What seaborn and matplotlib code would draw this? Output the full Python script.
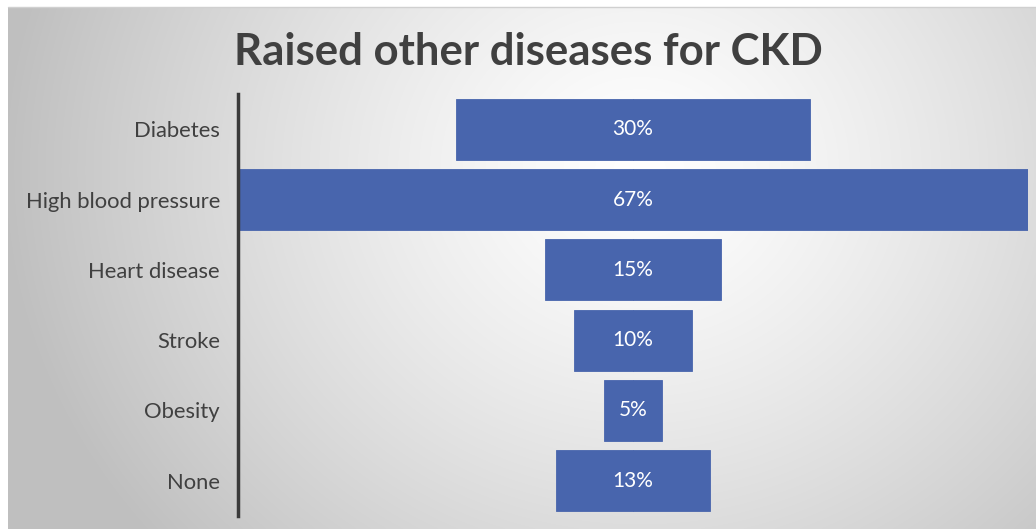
import numpy as np
import pandas as pd
import matplotlib
matplotlib.use("Agg")
import matplotlib.pyplot as plt
import seaborn as sns

# Data
categories = ["Diabetes", "High blood pressure", "Heart disease", "Stroke", "Obesity", "None"]
percentages = [30, 67, 15, 10, 5, 13]
value_labels = ["30%", "67%", "15%", "10%", "5%", "13%"]

sns.set_theme(style="white")
plt.rcParams["font.family"] = ["Lato", "DejaVu Sans"]

W, H, DPI = 1036, 529, 100
fig = plt.figure(figsize=(W / DPI, H / DPI), dpi=DPI)
fig.patch.set_facecolor("white")

# Radial gradient backdrop (white near the title, grey toward the edges)
bg = fig.add_axes([8 / W, 0, 1 - 8 / W, 1 - 7 / H], zorder=0)
gx = np.linspace(8, W, 600)
gy = np.linspace(7, H, 320)
X, Y = np.meshgrid(gx, gy)
cx, cy = 640, 170
r = np.sqrt(((X - cx) / 1.0) ** 2 + ((Y - cy) / 0.9) ** 2)
t = np.clip(r / 640, 0, 1) ** 1.3
val = 1.0 - 0.25 * t
img = np.dstack([val, val, val])
bg.imshow(img, aspect="auto", extent=[0, 1, 0, 1], interpolation="bilinear")
bg.axis("off")
# thin border line along the top of the backdrop
fig.add_artist(plt.Line2D([8 / W, 1], [1 - 7 / H, 1 - 7 / H], color="#d0d0d0", lw=1))

# Funnel plot area
ax = fig.add_axes([238 / W, 1 - 516 / H, (1028 - 238) / W, (516 - 94) / H], zorder=1)
ax.patch.set_alpha(0)

df = pd.DataFrame({"category": categories, "pct": percentages})
df["half"] = df["pct"] / 2.0
df["neg_half"] = -df["pct"] / 2.0

bar_color = "#4865AD"
sns.barplot(data=df, y="category", x="half", orient="h", color=bar_color,
            width=0.87, saturation=1, ax=ax, edgecolor=bar_color, linewidth=0.6)
sns.barplot(data=df, y="category", x="neg_half", orient="h", color=bar_color,
            width=0.87, saturation=1, ax=ax, edgecolor=bar_color, linewidth=0.6)

maxv = max(percentages)
ax.set_xlim(-maxv / 2, maxv / 2)
ax.set_ylim(len(categories) - 0.5, -0.5)

for i, lab in enumerate(value_labels):
    ax.text(0, i, lab, ha="center", va="center", color="white", fontsize=15)

ax.set_xlabel("")
ax.set_ylabel("")
ax.set_xticks([])
ax.tick_params(axis="y", length=0, pad=13, labelsize=15.8, labelcolor="#404040")
for s in ["top", "right", "bottom"]:
    ax.spines[s].set_visible(False)
ax.spines["left"].set_color("#3a3a3a")
ax.spines["left"].set_linewidth(2.5)

fig.text(528 / W, 1 - 52 / H, "Raised other diseases for CKD", ha="center", va="center",
         fontsize=31.5, fontweight="bold", color="#404040")

fig.savefig("out.png", dpi=DPI)
